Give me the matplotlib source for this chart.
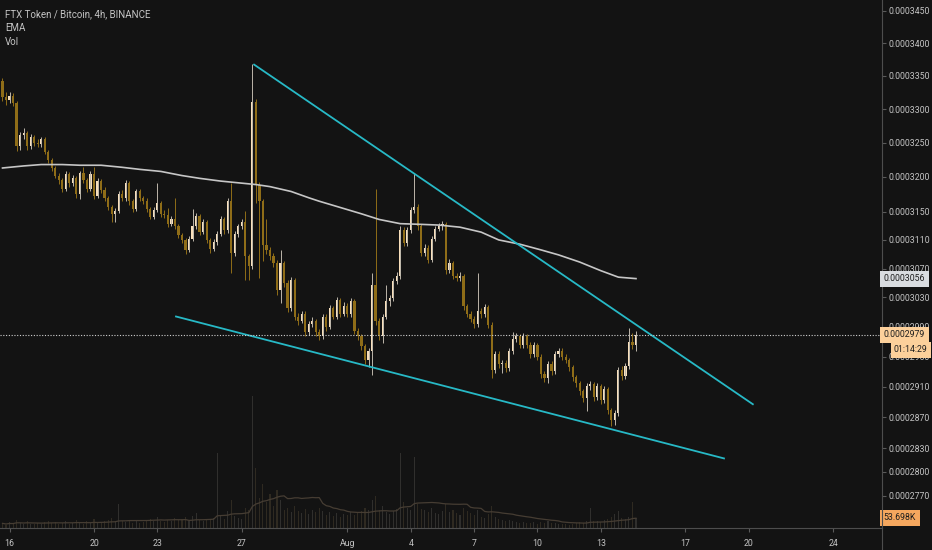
import numpy as np
import pandas as pd
import matplotlib
matplotlib.use('Agg')
import matplotlib.pyplot as plt
from matplotlib.ticker import FixedLocator, FuncFormatter, NullLocator, NullFormatter
from matplotlib.transforms import blended_transform_factory
from matplotlib.lines import Line2D

# prices in units of 1e-7 BTC, 4h candles starting 2019-07-15 16:00
start = pd.Timestamp('2019-07-15 16:00')
first_open = 3342
close = [3318, 3313, 3320, 3309, 3245, 3261, 3265, 3245, 3259, 3249,
         3248, 3255, 3237, 3224, 3213, 3202, 3195, 3183, 3204, 3191,
         3198, 3175, 3205, 3195, 3183, 3204, 3172, 3194, 3181, 3169,
         3157, 3147, 3151, 3176, 3169, 3191, 3165, 3154, 3179, 3169,
         3166, 3154, 3143, 3153, 3162, 3147, 3146, 3132, 3140, 3130,
         3117, 3110, 3096, 3112, 3129, 3144, 3121, 3135, 3110, 3097,
         3107, 3118, 3140, 3124, 3166, 3092, 3118, 3129, 3135, 3087,
         3074, 3310, 3188, 3165, 3103, 3096, 3087, 3078, 3040, 3078,
         3050, 3015, 3054, 3004, 2998, 3008, 2983, 2994, 2998, 2983,
         2977, 3004, 2990, 3015, 3004, 3026, 3008, 3019, 3007, 3025,
         2985, 2977, 2964, 2945, 2958, 3047, 2998, 2977, 3004, 3025,
         3029, 3053, 3060, 3124, 3106, 3124, 3152, 3157, 3129, 3092,
         3099, 3082, 3112, 3126, 3129, 3133, 3068, 3078, 3060, 3057,
         3060, 3018, 3008, 3001, 2994, 3011, 3007, 3017, 2993, 2932,
         2954, 2940, 2942, 2935, 2958, 2973, 2977, 2966, 2977, 2966,
         2953, 2965, 2950, 2927, 2921, 2940, 2931, 2954, 2958, 2950,
         2945, 2936, 2923, 2915, 2904, 2895, 2911, 2913, 2896, 2911,
         2892, 2907, 2879, 2866, 2875, 2932, 2924, 2937, 2970, 2965, 2979]
high = [3347, 3325, 3326, 3324, 3312, 3266, 3271, 3268, 3263, 3262,
        3255, 3259, 3258, 3240, 3227, 3216, 3206, 3199, 3208, 3207,
        3203, 3201, 3209, 3214, 3199, 3208, 3215, 3198, 3197, 3185,
        3172, 3160, 3155, 3180, 3181, 3196, 3194, 3168, 3183, 3182,
        3173, 3169, 3157, 3157, 3191, 3165, 3152, 3155, 3144, 3169,
        3133, 3120, 3113, 3116, 3154, 3148, 3147, 3139, 3138, 3113,
        3111, 3122, 3144, 3143, 3170, 3191, 3122, 3133, 3140, 3151,
        3090, 3368, 3315, 3192, 3168, 3140, 3100, 3091, 3082, 3096,
        3081, 3054, 3058, 3057, 3009, 3012, 3011, 2998, 3003, 3001,
        2987, 3008, 3007, 3020, 3018, 3031, 3029, 3024, 3022, 3029,
        3028, 2989, 2980, 2967, 2962, 3064, 3183, 3002, 3008, 3047,
        3034, 3057, 3065, 3129, 3128, 3128, 3157, 3205, 3161, 3132,
        3104, 3103, 3116, 3130, 3134, 3137, 3136, 3083, 3081, 3064,
        3065, 3063, 3021, 3011, 3005, 3064, 3015, 3021, 3020, 2996,
        2958, 2957, 2946, 2946, 2962, 2983, 2981, 2980, 2981, 2980,
        2969, 2969, 2968, 2953, 2931, 2944, 2944, 2958, 2962, 2961,
        2954, 2948, 2939, 2926, 2918, 2907, 2915, 2918, 2916, 2915,
        2914, 2911, 2910, 2882, 2879, 2936, 2937, 2941, 2989, 2981, 2985]
low = [3312, 3306, 3309, 3304, 3238, 3240, 3256, 3240, 3241, 3245,
       3243, 3244, 3233, 3220, 3208, 3198, 3190, 3178, 3180, 3186,
       3187, 3170, 3168, 3191, 3178, 3180, 3168, 3169, 3177, 3165,
       3152, 3136, 3136, 3148, 3165, 3166, 3160, 3150, 3151, 3165,
       3161, 3150, 3139, 3140, 3149, 3143, 3141, 3128, 3129, 3126,
       3113, 3105, 3090, 3093, 3108, 3125, 3117, 3118, 3106, 3092,
       3094, 3103, 3115, 3119, 3120, 3064, 3088, 3114, 3125, 3054,
       3054, 3070, 3162, 3057, 3080, 3090, 3082, 3072, 3034, 3022,
       3045, 3010, 3012, 2999, 2993, 2995, 2978, 2979, 2990, 2978,
       2972, 2974, 2985, 2987, 3000, 3001, 3003, 3005, 3003, 3004,
       2980, 2972, 2959, 2940, 2936, 2925, 2993, 2972, 2968, 3000,
       3019, 3025, 3048, 3056, 3101, 3102, 3120, 3148, 3124, 3087,
       3088, 3077, 3079, 3108, 3122, 3124, 3063, 3064, 3055, 3052,
       3053, 3013, 3003, 2996, 2989, 2990, 3002, 3003, 2988, 2921,
       2928, 2935, 2928, 2930, 2931, 2954, 2969, 2962, 2962, 2962,
       2948, 2949, 2945, 2922, 2916, 2915, 2926, 2927, 2950, 2946,
       2941, 2931, 2918, 2910, 2899, 2890, 2878, 2906, 2891, 2892,
       2887, 2888, 2874, 2859, 2860, 2871, 2919, 2920, 2933, 2960, 2958]
# volume in thousands
volume = [25, 18, 30, 22, 45, 28, 20, 35, 24, 19, 27, 22, 31, 40, 26, 33, 21, 29, 38, 24,
          26, 42, 30, 22, 35, 28, 48, 25, 31, 36, 44, 52, 38, 130, 40, 33, 45, 29, 37, 27,
          32, 41, 48, 35, 60, 38, 30, 44, 36, 55, 41, 47, 58, 39, 62, 80, 45, 37, 51, 43,
          56, 405, 72, 48, 90, 150, 64, 52, 47, 110, 95, 710, 320, 160, 238, 140, 180, 120, 205, 150,
          95, 110, 85, 120, 90, 80, 100, 75, 95, 85, 105, 90, 70, 85, 65, 80, 60, 75, 70, 85,
          70, 85, 90, 110, 95, 150, 170, 95, 120, 85, 75, 90, 100, 405, 140, 110, 95, 380, 130, 100,
          95, 85, 110, 80, 75, 90, 130, 85, 95, 80, 70, 105, 90, 80, 70, 95, 60, 55, 75, 120,
          60, 48, 42, 38, 45, 35, 30, 26, 32, 28, 25, 30, 24, 33, 28, 36, 25, 27, 22, 20,
          20, 18, 22, 26, 30, 28, 35, 105, 40, 36, 32, 45, 50, 60, 75, 90, 55, 48, 60, 140, 53.698]

# EMA at some candles
ema_idx = [0, 6, 11, 17, 22, 28, 34, 39, 45, 51, 56, 62, 68, 72, 76, 82, 87, 90,
           96, 102, 107, 113, 119, 124, 130, 136, 141, 147, 153, 158, 164, 170, 175, 180]
ema_val = [3213, 3216, 3218, 3218, 3217, 3217, 3214, 3211, 3208, 3202, 3198, 3194,
           3191, 3189, 3186, 3179, 3170, 3165, 3156, 3147, 3139, 3133, 3132, 3131,
           3128, 3121, 3110, 3104, 3096, 3089, 3079, 3067, 3058, 3056]

# drawn trend lines (candle index, price)
upper_x = [71.5, 213.2]
upper_y = [3367, 2887]
lower_x = [49.3, 205.0]
lower_y = [3004, 2817]

y_ticks = [2770, 2800, 2830, 2870, 2910, 2950, 2990, 3030, 3070, 3110,
           3150, 3200, 3250, 3300, 3350, 3400, 3450]
tick_dates = ['2019-07-16', '2019-07-20', '2019-07-23', '2019-07-27', '2019-08-01',
              '2019-08-04', '2019-08-07', '2019-08-10', '2019-08-13', '2019-08-17',
              '2019-08-20', '2019-08-24']
tick_labels = ['16', '20', '23', '27', 'Aug', '4', '7', '10', '13', '17', '20', '24']

BG = '#131313'
UP = '#f8dfbb'
UP_WICK = '#bdb6aa'
DOWN = '#8f6d18'
CYAN = '#27b9c6'
TXT = '#c4c4c4'
plt.rcParams['font.family'] = ['Roboto', 'DejaVu Sans']

close = np.array(close, float)
high = np.array(high, float)
low = np.array(low, float)
volume = np.array(volume, float)
opens = np.r_[first_open, close[:-1]]
idx = np.arange(len(close))
up = close >= opens
vol_ma = pd.Series(volume).rolling(20, min_periods=1).mean()

fig = plt.figure(figsize=(9.32, 5.5), dpi=100, facecolor=BG)
rect = [0, 22 / 550, 882 / 932, 528 / 550]
ax_vol = fig.add_axes(rect)
ax = fig.add_axes(rect, sharex=ax_vol)
ax.patch.set_visible(False)
ax_vol.axis('off')

# volume
vcol = np.where(up, '#302f2d', '#2f2a21')
ax_vol.bar(idx, volume, width=0.3, color=vcol)
ax_vol.plot(idx, vol_ma, color='#463d33', lw=0.9)
ax_vol.set_ylim(0, 2835)

# candles
ax.vlines(idx[up], low[up], high[up], color=UP_WICK, lw=0.7)
ax.vlines(idx[~up], low[~up], high[~up], color=DOWN, lw=0.7)
body_lo = np.minimum(opens, close)
body_h = np.maximum(np.abs(close - opens), 1.0)
ax.bar(idx[up], body_h[up], bottom=body_lo[up], width=0.62, color=UP)
ax.bar(idx[~up], body_h[~up], bottom=body_lo[~up], width=0.62, color=DOWN)

ax.plot(ema_idx, ema_val, color='#c6c6c6', lw=1.2)
ax.plot(upper_x, upper_y, color=CYAN, lw=1.3)
ax.plot(lower_x, lower_y, color=CYAN, lw=1.3)
ax.axhline(close[-1], color='#d0d0d0', ls=(0, (1, 1.5)), lw=0.8)

ax.set_yscale('log')
ax.set_ylim(2729.6, 3467)
ax.set_xlim(-0.71, 249.9)
ax.yaxis.set_major_locator(FixedLocator(y_ticks))
ax.yaxis.set_minor_locator(NullLocator())
ax.yaxis.set_minor_formatter(NullFormatter())
ax.yaxis.set_major_formatter(FuncFormatter(lambda v, p: f'{v * 1e-7:.7f}'))
ax.yaxis.tick_right()
tick_pos = [(pd.Timestamp(d) - start) / pd.Timedelta(hours=4) for d in tick_dates]
ax.set_xticks(tick_pos)
ax.set_xticklabels(tick_labels)
ax.tick_params(axis='y', length=3, color='#5a5a5a', labelcolor=TXT, labelsize=6.3, pad=2)
ax.tick_params(axis='x', length=3, color='#5a5a5a', labelcolor=TXT, labelsize=6.3, pad=5)
for s in ['top', 'left']:
    ax.spines[s].set_visible(False)
for s in ['right', 'bottom']:
    ax.spines[s].set_color('#4d4d4d')
    ax.spines[s].set_linewidth(0.8)
fig.add_artist(Line2D([882 / 932, 882 / 932], [0, 22 / 550], color='#4d4d4d', lw=0.8,
                      transform=fig.transFigure))

# header
fig.text(5 / 932, 1 - 14 / 550, 'FTX Token / Bitcoin, 4h, BINANCE', color=TXT, fontsize=7, va='center')
fig.text(5 / 932, 1 - 28 / 550, 'EMA', color=TXT, fontsize=7, va='center')
fig.text(5 / 932, 1 - 42 / 550, 'Vol', color=TXT, fontsize=7, va='center')

# price scale labels
tr = blended_transform_factory(ax.transAxes, ax.transData)
ax.text(1.002, ema_val[-1], f'{ema_val[-1] * 1e-7:.7f}', transform=tr, ha='left', va='center',
        fontsize=6.3, color='#1e1e1e', clip_on=False,
        bbox=dict(boxstyle='square,pad=0.4', fc='#d9dce0', ec='none'))
ax.text(1.002, close[-1], f'{close[-1] * 1e-7:.7f}', transform=tr, ha='left', va='center',
        fontsize=6.3, color='#1e1e1e', clip_on=False,
        bbox=dict(boxstyle='square,pad=0.4', fc='#fcd09b', ec='none'))
ax.annotate('01:14:29', xy=(1.0, close[-1]), xycoords=tr, xytext=(12, -15),
            textcoords='offset pixels', ha='left', va='center', fontsize=6.3, color='#1e1e1e',
            annotation_clip=False, bbox=dict(boxstyle='square,pad=0.35', fc='#fcd09b', ec='none'))
trv = blended_transform_factory(ax_vol.transAxes, ax_vol.transData)
ax_vol.text(1.002, volume[-1], f'{volume[-1]:.3f}K', transform=trv, ha='left', va='center',
            fontsize=6.3, color='#1e1e1e', clip_on=False,
            bbox=dict(boxstyle='square,pad=0.45', fc='#f5a75e', ec='none'))

fig.savefig('out.png', dpi=100, facecolor=BG)
